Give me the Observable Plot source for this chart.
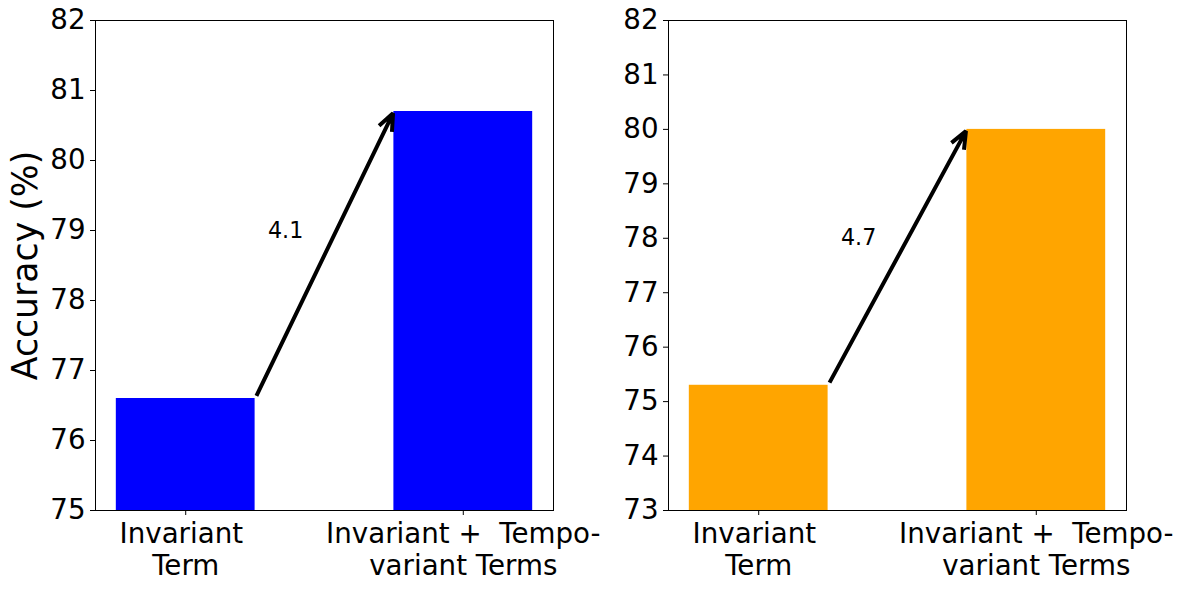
<!DOCTYPE html>
<html>
<head>
<meta charset="utf-8">
<script src="https://cdn.jsdelivr.net/npm/d3@7"></script>
<script src="https://cdn.jsdelivr.net/npm/@observablehq/plot@0.6"></script>
<style>
  body { margin: 0; background: white; }
  #wrap { position: relative; width: 1183px; height: 590px; background: white; }
  svg text { white-space: pre; }
</style>
</head>
<body>
<div id="wrap"></div>
<script>
const categories = ["Invariant \nTerm", "Invariant +  Tempo-\nvariant Terms"];
const leftValues = [76.6, 80.7];
const rightValues = [75.3, 80.0];
const gainLabels = ["4.1", "4.7"];
const leftTicks = [75, 76, 77, 78, 79, 80, 81, 82];
const rightTicks = [73, 74, 75, 76, 77, 78, 79, 80, 81, 82];
const colors = ["#0000ff", "#ffa500"];
const yLabel = "Accuracy (%)";

const BAR_W = 0.5;

function panel(values, ticks, color, gain, withLabel) {
  const data = values.map((v, i) => ({i, v}));
  const ymin = ticks[0], ymax = ticks[ticks.length - 1];
  const arrowData = [{x1: 0 + BAR_W / 2, y1: values[0], x2: 1 - BAR_W / 2, y2: values[1]}];
  const marks = [
    Plot.rectY(data, {x1: d => d.i - BAR_W / 2, x2: d => d.i + BAR_W / 2, y1: ymin, y2: "v", fill: color}),
    Plot.frame({stroke: "black", strokeWidth: 1}),
    Plot.axisY(ticks, {tickSize: 5, tickPadding: 5, label: null, fontSize: 27.7, tickFormat: d => String(d)}),
    Plot.axisX([0, 1], {tickSize: 5, tickPadding: 5, label: null, fontSize: 27.7, lineHeight: 1.15, tickFormat: i => categories[i]}),
    Plot.arrow(arrowData, {x1: "x1", y1: "y1", x2: "x2", y2: "y2", stroke: "black", strokeWidth: 4, headLength: 7, headAngle: 45, insetStart: 3, insetEnd: 2, strokeLinecap: "butt"}),
    Plot.text([gain], {x: 0.36, y: (values[0] + values[1]) / 2 + 0.35, text: d => d, fontSize: 22.2, fill: "black"})
  ];
  if (withLabel) {
    marks.push(Plot.text([yLabel], {frameAnchor: "left", textAnchor: "middle", rotate: -90, dx: -70, text: d => d, fontSize: 34.7, fill: "black"}));
  }
  return Plot.plot({
    width: 600,
    height: 590,
    marginLeft: 95,
    marginRight: 47,
    marginTop: 20,
    marginBottom: 80,
    style: {fontFamily: "'DejaVu Sans', sans-serif", color: "black", background: "transparent", overflow: "visible"},
    x: {type: "linear", domain: [-0.325, 1.325], axis: null},
    y: {type: "linear", domain: [ymin, ymax], axis: null},
    marks
  });
}

const wrap = document.getElementById("wrap");
const left = panel(leftValues, leftTicks, colors[0], gainLabels[0], true);
left.style.left = "0px";
left.style.top = "0px";
left.style.position = "absolute";
const right = panel(rightValues, rightTicks, colors[1], gainLabels[1], false);
right.style.left = "573px";
right.style.top = "0px";
right.style.position = "absolute";
wrap.appendChild(right);
wrap.appendChild(left);
</script>
</body>
</html>
